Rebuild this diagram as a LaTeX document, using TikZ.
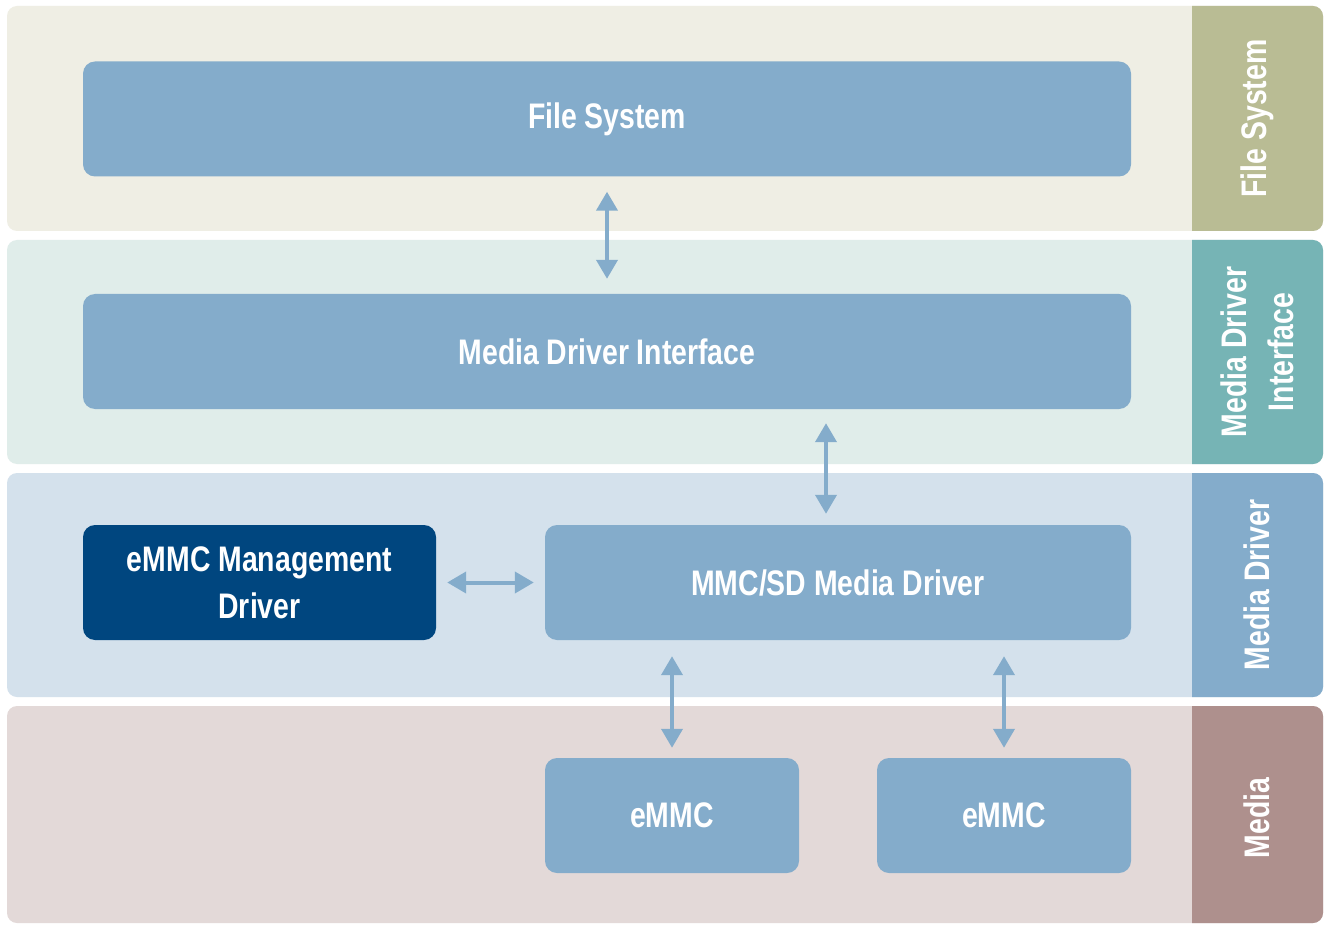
\documentclass[tikz,border=0pt]{standalone}
\usepackage{fontspec}
\setmainfont[FakeStretch=0.8]{Liberation Sans}
\usetikzlibrary{arrows.meta}
\definecolor{bgA}{HTML}{EFEEE4}
\definecolor{bgB}{HTML}{E0EDEA}
\definecolor{bgC}{HTML}{D4E1EC}
\definecolor{bgD}{HTML}{E3D9D8}
\definecolor{labA}{HTML}{B9BC94}
\definecolor{labB}{HTML}{76B4B5}
\definecolor{labC}{HTML}{84ACCB}
\definecolor{labD}{HTML}{AE908D}
\definecolor{boxc}{HTML}{84ACCB}
\definecolor{darkc}{HTML}{00467F}
\tikzset{
  txt/.style={text=white,font=\fontsize{35.5}{47}\selectfont\bfseries},
  box/.style={txt,fill=boxc,rounded corners=12pt,inner sep=0pt,align=center},
  darkbox/.style={box,fill=darkc},
  lab/.style={txt,rotate=90,align=center,inner sep=0pt},
  arr/.style={draw=boxc,line width=4pt,{Triangle[width=21pt,length=19pt]}-{Triangle[width=21pt,length=19pt]}},
}
\begin{document}
\begin{tikzpicture}[x=1pt,y=-1pt]
\useasboundingbox (0,0) rectangle (1325,925);
\fill[white] (0,0) rectangle (1325,925);
% bands
\foreach \t/\b/\bg/\lb in {6/231/bgA/labA,240/464/bgB/labB,473/697/bgC/labC,706/923/bgD/labD}{
  \fill[\bg,rounded corners=10pt] (7,\t) rectangle (1323,\b);
  \begin{scope}
    \clip (1192,0) rectangle (1325,925);
    \fill[\lb,rounded corners=10pt] (7,\t) rectangle (1323,\b);
  \end{scope}
}
% side labels
\node[lab] (lfs) at (1257,118.5) {File System};
\node[lab] (lmdi) at (1257,352) {Media Driver\\Interface};
\node[lab] (lmd) at (1257,585) {Media Driver};
\node[lab] (lm) at (1257,818) {Media};
% boxes
\node[box,minimum width=1048pt,minimum height=115pt] (fs) at (607,119) {File System};
\node[box,minimum width=1048pt,minimum height=115pt] (mdi) at (607,351.5) {Media Driver Interface};
\node[darkbox,minimum width=353pt,minimum height=115pt] (mgmt) at (259.5,582.5) {eMMC Management\\Driver};
\node[box,minimum width=586pt,minimum height=115pt] (mmc) at (838,582.5) {MMC/SD Media Driver};
\node[box,minimum width=254pt,minimum height=115pt] (e1) at (672,815.5) {eMMC};
\node[box,minimum width=254pt,minimum height=115pt] (e2) at (1004,815.5) {eMMC};
\coordinate (m2) at ([xshift=-12pt]mmc.north);
% connectors
\draw[arr] ([yshift=-15pt]fs.south) -- ([yshift=15pt]mdi.north);
\draw[arr] ([yshift=-14pt]mdi.south -| m2) -- ([yshift=11pt]m2);
\draw[arr] ([xshift=11pt]mgmt.east) -- ([xshift=-11pt]mmc.west);
\draw[arr] ([yshift=-16pt]mmc.south -| e1.north) -- ([yshift=10pt]e1.north);
\draw[arr] ([yshift=-16pt]mmc.south -| e2.north) -- ([yshift=10pt]e2.north);
\end{tikzpicture}
\end{document}
